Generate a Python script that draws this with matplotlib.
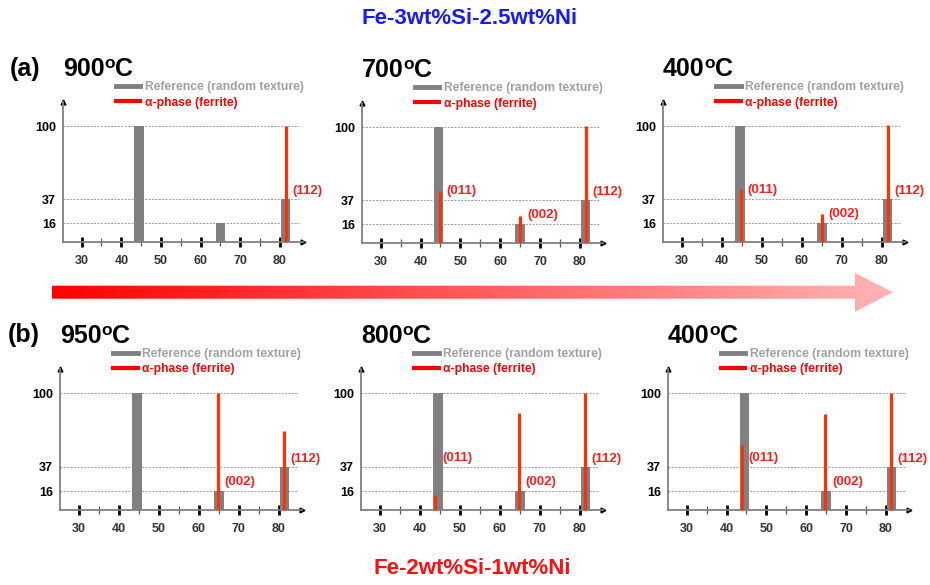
import numpy as np
import matplotlib.pyplot as plt
from matplotlib.lines import Line2D
from matplotlib.patches import Polygon
from matplotlib.colors import LinearSegmentedColormap

plt.rcParams['font.family'] = 'Liberation Sans'
plt.rcParams['font.weight'] = 'bold'

# reference pattern (random texture), 2theta and relative intensity
ref_pos = [44.5, 65.0, 81.4]
ref_int = [100, 16, 37]
planes = ['(011)', '(002)', '(112)']
label_y = [45, 24, 44]
y_ticks = [16, 37, 100]
x_ticks = [30, 40, 50, 60, 70, 80]
x_minor = [35, 45, 55, 65, 75]

# (a) Fe-3wt%Si-2.5wt%Ni
temps_a = ['900', '700', '400']
ferrite_pos_a = [44.8, 65.0, 81.5]
ferrite_a = [[0, 0, 100], [45, 23, 101], [46, 24, 101]]

# (b) Fe-2wt%Si-1wt%Ni
temps_b = ['950', '800', '400']
ferrite_pos_b = [43.9, 64.8, 81.3]
ferrite_b = [[0, 100, 68], [13, 83, 100], [56, 82, 100]]

W, H = 930, 585
fig = plt.figure(figsize=(9.3, 5.85), dpi=100)


def px_axes(l, r, t, b):
    return fig.add_axes([l / W, 1 - b / H, (r - l) / W, (b - t) / H])


def temp_title(ax, temp):
    # "900" + small raised "o" + "C"
    t1 = ax.text(0, 1 + 33 / 140, temp, transform=ax.transAxes,
                 fontsize=18, va='center', ha='left')
    t2 = ax.annotate('o', xy=(1.0, 1.04), xycoords=t1, fontsize=12.5,
                     va='top', ha='left')
    ax.annotate('C', xy=(1.0, 0.0), xycoords=(t2, t1), fontsize=18,
                va='bottom', ha='left')


def panel(box, temp, pos, vals):
    ax = px_axes(*box)
    ax.set_xlim(25.3, 85.8)
    ax.set_ylim(0, 121)
    ax.bar(ref_pos, ref_int, width=2.4, color='#808080', zorder=2)
    ax.hlines(y_ticks, 25.3, 84.8, colors='#999999', linestyles=(0, (2, 1.5)),
              linewidth=0.7, zorder=1)
    for x, v, name, ly in zip(pos, vals, planes, label_y):
        if v > 0:
            ax.vlines(x, 0, v, color='#ff3300', linewidth=2.3, zorder=3)
            ax.text(x + 1.7, ly, name, color='#ff2020', fontsize=9.5, va='center')

    for s in ['top', 'right']:
        ax.spines[s].set_visible(False)
    for s in ['left', 'bottom']:
        ax.spines[s].set_color('#808080')
        ax.spines[s].set_linewidth(1.3)
    ax.plot(1, 0, '>', transform=ax.transAxes, clip_on=False, color='k', ms=3.5)
    ax.plot(0, 1, '^', transform=ax.transAxes, clip_on=False, color='k', ms=3.5)

    ax.set_xticks(x_ticks)
    ax.set_xticks(x_minor, minor=True)
    ax.tick_params(axis='x', which='major', direction='inout', length=6.5, width=2,
                   color='black', labelsize=9, labelcolor='#333333', pad=6)
    ax.tick_params(axis='x', which='minor', direction='inout', length=6, width=0.9,
                   color='#555555')
    ax.set_yticks(y_ticks)
    ax.tick_params(axis='y', length=0, labelsize=9, pad=5)

    handles = [Line2D([], [], color='#808080', lw=3.5),
               Line2D([], [], color='#ff0000', lw=3)]
    ax.legend(handles, ['Reference (random texture)', '\u03b1-phase (ferrite)'],
              loc='center left', bbox_to_anchor=(53 / 240, 1.05), frameon=False,
              fontsize=8.7, handlelength=2.0, handletextpad=0.4, labelspacing=0.25,
              borderpad=0, borderaxespad=0, labelcolor=['#a0a0a0', '#ff0000'])

    temp_title(ax, temp)
    return ax


boxes_a = [(63, 303, 102, 242), (362, 603, 103, 243), (663, 905, 102, 242)]
boxes_b = [(60, 302, 369, 510), (361, 603, 369, 510), (668, 909, 369, 510)]

for box, t, v in zip(boxes_a, temps_a, ferrite_a):
    panel(box, t, ferrite_pos_a, v)
for box, t, v in zip(boxes_b, temps_b, ferrite_b):
    panel(box, t, ferrite_pos_b, v)

fig.text(10 / W, 1 - 69 / H, '(a)', fontsize=18, va='center')
fig.text(8 / W, 1 - 335 / H, '(b)', fontsize=18, va='center')

fig.text(470 / W, 1 - 18 / H, 'Fe-3wt%Si-2.5wt%Ni', color='#1a1aff', fontsize=16,
         ha='center', va='center')
fig.text(472 / W, 1 - 569 / H, 'Fe-2wt%Si-1wt%Ni', color='#ff1010', fontsize=16,
         ha='center', va='center')

# gradient arrow (cooling direction)
arr = px_axes(50, 895, 270, 315)
arr.set_xlim(50, 895)
arr.set_ylim(315, 270)
arr.axis('off')
cmap = LinearSegmentedColormap.from_list('cool', ['#ff0000', '#ffb4b4'])
grad = np.linspace(0, 1, 256).reshape(1, -1)
im = arr.imshow(grad, cmap=cmap, aspect='auto', extent=(52, 893, 315, 270))
shape = Polygon([(52, 285.7), (855, 285.7), (855, 273), (893, 292.3),
                 (855, 311.7), (855, 298.7), (52, 298.7)], closed=True,
                transform=arr.transData, facecolor='none', edgecolor='none')
arr.add_patch(shape)
im.set_clip_path(shape)

fig.savefig('out.png', dpi=100)
